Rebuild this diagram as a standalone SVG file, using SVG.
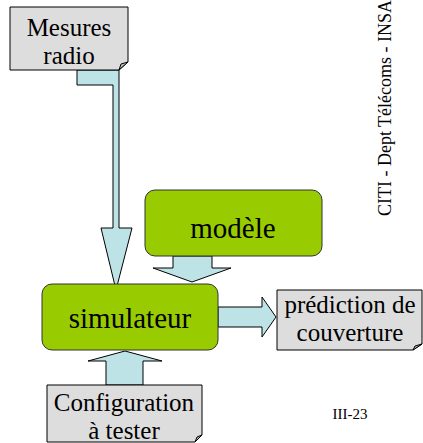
<svg xmlns="http://www.w3.org/2000/svg" width="423" height="443" viewBox="0 0 423 443">
<style>
.note{fill:#dddddd;stroke:#000;stroke-width:1}
.fold{fill:#bbbbbb;stroke:#000;stroke-width:1}
.box{fill:#99cc00;stroke:#333;stroke-width:1}
.arr{fill:#bde3e6;stroke:#000;stroke-width:1}
text{font-family:'Liberation Serif','Times New Roman','DejaVu Serif',serif;fill:#000;text-anchor:middle}
.lbl{font-size:25px}
.big{font-size:29px}
</style>
<rect width="423" height="443" fill="#fff"/>
<g id="connectors">
<polygon class="arr" points="77,70 119,70 119,228 132,228 116,290 101,228 113,228 113,85 77,85"/>
<polygon class="arr" points="173,256 212,256 212,268 231,268 192,282 153,268 173,268"/>
<polygon class="arr" points="218,307 262,307 262,297 276,317 262,337 262,327 218,327"/>
<polygon class="arr" points="106,385 106,361 88,361 125,351 162,361 143,361 143,385"/>
</g>
<g id="mesures">
<path class="note" d="M10,7 H128 V62 L119,70 H10 Z"/>
<path class="fold" d="M128,62 L119,70 L121,64 Z"/>
<text class="lbl" x="69" y="36">Mesures</text>
<text class="lbl" x="69" y="64">radio</text>
</g>
<g id="modele">
<rect class="box" x="145" y="190" width="177" height="66" rx="10"/>
<text class="big" x="233" y="238">modèle</text>
</g>
<g id="simulateur">
<rect class="box" x="42" y="284" width="176" height="66" rx="10"/>
<text class="big" x="130" y="328">simulateur</text>
</g>
<g id="prediction">
<path class="note" d="M277,290 H422 V344 L413,350 H277 Z"/>
<path class="fold" d="M422,344 L413,350 L415,346 Z"/>
<text class="lbl" x="350" y="313">prédiction de</text>
<text class="lbl" x="350" y="341">couverture</text>
</g>
<g id="configuration">
<path class="note" d="M47,385 H202 V435 L195,442 H47 Z"/>
<path class="fold" d="M202,435 L195,442 L197,437 Z"/>
<text class="lbl" x="124" y="411">Configuration</text>
<text class="lbl" x="124" y="439">à tester</text>
</g>
<text font-size="18" transform="translate(391,108) rotate(-90)">CITI - Dept Télécoms - INSA</text>
<text font-size="15" x="350" y="419">III-23</text>
</svg>
